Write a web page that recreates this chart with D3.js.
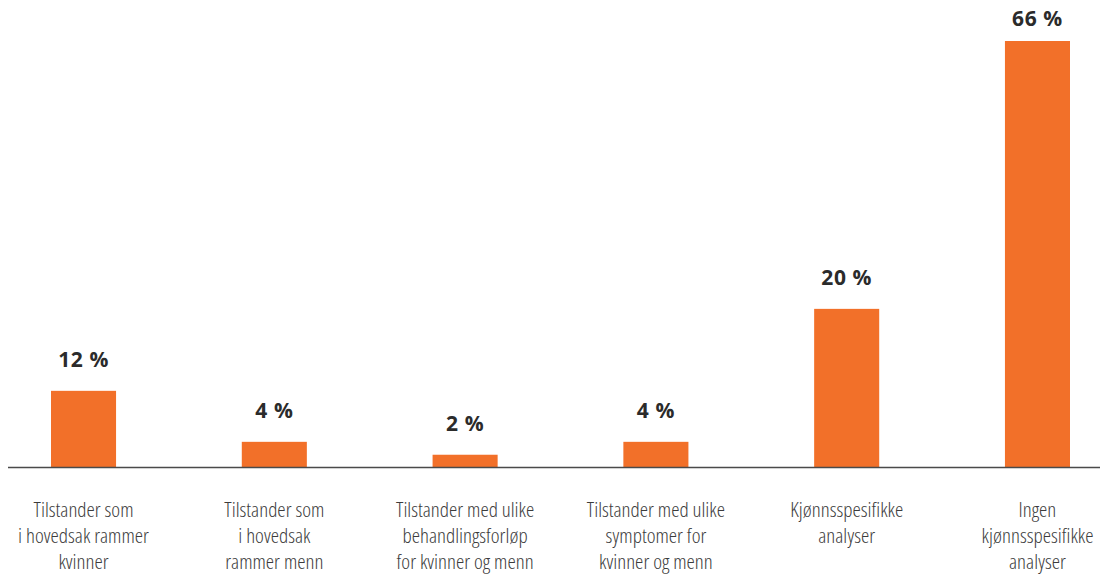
<!DOCTYPE html>
<html>
<head>
<meta charset="utf-8">
<script src="https://cdn.jsdelivr.net/npm/d3@7"></script>
<style>
  body { margin: 0; background: #fff; }
  .cat { font-family: "Open Sans", sans-serif; font-weight: 300; font-stretch: 75%; }
</style>
</head>
<body>
<svg id="chart"></svg>
<script>
var categories = [
  ["Tilstander som", "i hovedsak rammer", "kvinner"],
  ["Tilstander som", "i hovedsak", "rammer menn"],
  ["Tilstander med ulike", "behandlingsforløp", "for kvinner og menn"],
  ["Tilstander med ulike", "symptomer for", "kvinner og menn"],
  ["Kjønnsspesifikke", "analyser"],
  ["Ingen", "kjønnsspesifikke", "analyser"]
]
var valueLabels = ["12 %", "4 %", "2 %", "4 %", "20 %", "66 %"]
// bar heights as drawn in the picture
var barValues = [11.8, 3.9, 1.9, 3.9, 24.5, 66]

var dimensions = {
  width: 1100,
  height: 574,
  baseline: 467,
  top: 41
}

var svg = d3.select("#chart")
  .attr("width", dimensions.width)
  .attr("height", dimensions.height)

var ids = categories.map((d, i) => i)

var xScale = d3.scaleBand()
  .domain(ids)
  .range([51, 1070])
  .paddingInner(0.659)
  .paddingOuter(0)

var yScale = d3.scaleLinear()
  .domain([0, 66])
  .range([dimensions.baseline, dimensions.top])

svg.append("g")
  .selectAll("rect")
  .data(barValues)
  .enter()
  .append("rect")
  .attr("x", (d, i) => xScale(i))
  .attr("y", d => yScale(d))
  .attr("width", xScale.bandwidth())
  .attr("height", d => yScale(0) - yScale(d))
  .attr("fill", "#f27029")

svg.append("line")
  .attr("x1", 8)
  .attr("x2", 1100)
  .attr("y1", dimensions.baseline + 0.5)
  .attr("y2", dimensions.baseline + 0.5)
  .attr("stroke", "#4a4a4a")
  .attr("stroke-width", 1.5)

svg.append("g")
  .selectAll("text")
  .data(valueLabels)
  .enter()
  .append("text")
  .attr("x", (d, i) => xScale(i) + xScale.bandwidth() / 2)
  .attr("y", (d, i) => Math.max(yScale(barValues[i]) - 24, 26))
  .attr("text-anchor", "middle")
  .style("font-family", "'Open Sans', sans-serif")
  .style("font-weight", 700)
  .style("font-size", "21px")
  .style("letter-spacing", "0.6px")
  .attr("fill", "#2b2b2b")
  .text(d => d)

var cats = svg.append("g")
  .selectAll("text")
  .data(categories)
  .enter()
  .append("text")
  .attr("class", "cat")
  .attr("text-anchor", "middle")
  .style("font-size", "21px")
  .attr("fill", "#3c3c3c")
  .attr("transform", (d, i) => `translate(${xScale(i) + xScale.bandwidth() / 2},517)`)

cats.selectAll("tspan")
  .data(d => d)
  .enter()
  .append("tspan")
  .attr("x", 0)
  .attr("y", (d, j) => j * 26)
  .text(d => d)
</script>
</body>
</html>
